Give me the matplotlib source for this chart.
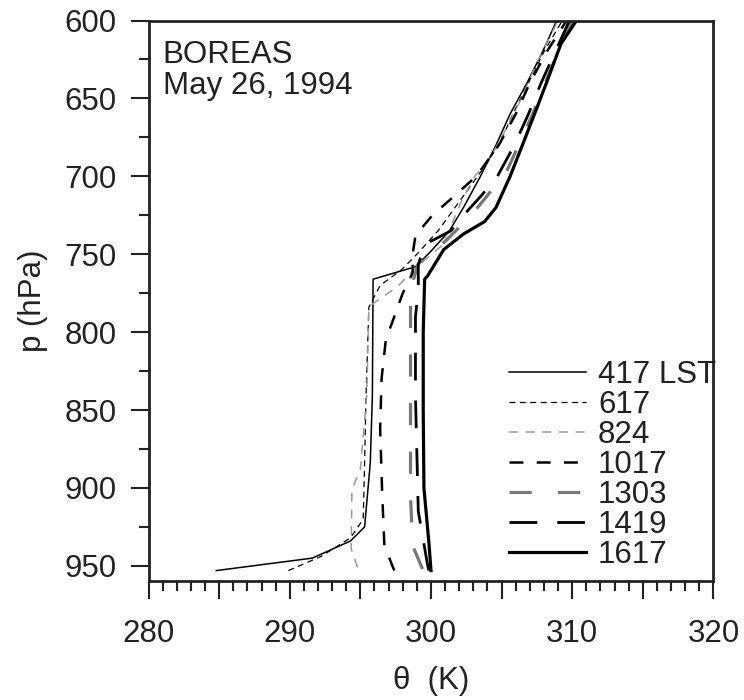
import matplotlib
matplotlib.use("Agg")
import matplotlib.pyplot as plt
from matplotlib.ticker import MultipleLocator, FuncFormatter

plt.rcParams['font.family'] = ['Liberation Sans', 'DejaVu Sans']
plt.rcParams['lines.scale_dashes'] = False

# potential temperature profiles, BOREAS May 26 1994 (theta in K, p in hPa)
p_417 = [953, 945, 934, 925, 884, 841, 766, 758, 748, 735, 720, 700, 680, 660, 640, 620, 600]
t_417 = [284.8, 291.6, 294.3, 295.3, 295.7, 295.85, 295.9, 298.9, 300.0, 301.3, 302.3, 303.5, 304.6, 305.6, 306.8, 307.9, 308.9]

p_617 = [953, 944, 932, 920, 884, 841, 784, 770, 760, 750, 735, 720, 700, 680, 660, 640, 620, 600]
t_617 = [289.9, 292.2, 294.3, 295.2, 295.3, 295.4, 295.6, 296.4, 297.9, 299.0, 300.5, 301.7, 303.3, 304.8, 305.8, 306.9, 308.0, 309.3]

p_824 = [951, 939, 901, 888, 841, 784, 781, 771, 758, 745, 730, 715, 700, 688, 675, 650, 625, 600]
t_824 = [294.8, 294.35, 294.4, 295.0, 295.45, 295.6, 296.0, 297.6, 299.0, 300.7, 301.5, 302.2, 303.1, 304.2, 305.0, 306.4, 307.6, 309.0]

p_1017 = [953, 937, 905, 862, 830, 805, 790, 775, 762, 750, 738, 725, 713, 700, 680, 660, 640, 620, 600]
t_1017 = [297.4, 296.7, 296.55, 296.4, 296.5, 296.8, 297.4, 298.0, 298.7, 298.7, 298.9, 300.1, 301.6, 303.2, 304.8, 306.0, 307.0, 308.2, 309.6]

p_1303 = [952, 937, 905, 862, 820, 786, 771, 756, 750, 740, 730, 720, 710, 698, 680, 660, 640, 620, 600]
t_1303 = [299.4, 298.7, 298.55, 298.55, 298.55, 298.55, 298.6, 299.1, 300.0, 301.2, 302.3, 303.3, 304.2, 305.3, 306.2, 307.2, 308.1, 309.0, 310.0]

p_1419 = [953, 949, 915, 841, 790, 773, 757, 744, 735, 722, 712, 700, 680, 660, 640, 620, 600]
t_1419 = [299.85, 299.75, 299.1, 298.9, 298.9, 299.1, 299.1, 299.5, 301.4, 302.6, 303.6, 304.7, 305.9, 306.9, 307.8, 308.8, 309.8]

p_1617 = [953, 935, 900, 850, 800, 766, 764, 747, 737, 729, 720, 712, 700, 677, 656, 637, 615, 600]
t_1617 = [300.0, 299.85, 299.5, 299.45, 299.45, 299.55, 299.75, 300.9, 302.3, 303.8, 304.6, 305.0, 305.6, 306.6, 307.5, 308.3, 309.2, 310.3]

fig = plt.figure(figsize=(7.44, 7.0), dpi=100)
ax = fig.add_axes([0.1996, 0.1693, 0.7594, 0.8014])

ax.plot(t_417, p_417, color='black', lw=1.1, label='417 LST')
ax.plot(t_617, p_617, color='black', lw=0.9, dashes=(4.3, 3.2), label='617')
ax.plot(t_824, p_824, color='#9a9a9a', lw=1.1, dashes=(6.5, 5.5), label='824')
ax.plot(t_1017, p_1017, color='black', lw=1.8, dashes=(10, 9.6), label='1017')
ax.plot(t_1303, p_1303, color='#777777', lw=2.3, dashes=(16, 19), label='1303')
ax.plot(t_1419, p_1419, color='black', lw=2.0, dashes=(20, 14.4), label='1419')
ax.plot(t_1617, p_1617, color='black', lw=2.3, label='1617')

ax.set_xlim(280, 320)
ax.set_ylim(960, 600)

ax.xaxis.set_major_locator(MultipleLocator(5))
ax.xaxis.set_minor_locator(MultipleLocator(1))
ax.xaxis.set_major_formatter(FuncFormatter(lambda v, pos: f"{v:.0f}" if round(v) % 10 == 0 else ""))
ax.yaxis.set_major_locator(MultipleLocator(50))
ax.yaxis.set_minor_locator(MultipleLocator(25))

ax.tick_params(which='both', direction='out', width=1.5, labelsize=22.5, color='#222222', labelcolor='#222222')
ax.tick_params(which='major', length=13)
ax.tick_params(which='minor', length=7.2)
ax.tick_params(axis='x', which='major', pad=14)
ax.tick_params(axis='y', which='major', pad=10)
for s in ax.spines.values():
    s.set_linewidth(2.0)
    s.set_color('#222222')

ax.set_xlabel('θ  (K)', fontsize=22.5, color='#222222', labelpad=12)
ax.set_ylabel('p (hPa)', fontsize=22.5, color='#222222', labelpad=12)

ax.text(0.025, 0.965, 'BOREAS\nMay 26, 1994', transform=ax.transAxes,
        fontsize=22.5, color='#222222', va='top', ha='left', linespacing=1.05)

leg = ax.legend(loc='lower left', bbox_to_anchor=(0.638, 0.02), frameon=False,
                fontsize=22.5, handlelength=2.45, handletextpad=0.4,
                labelspacing=0.0, borderpad=0, borderaxespad=0)
for t in leg.get_texts():
    t.set_color('#222222')

fig.savefig('out.png', dpi=100, facecolor='white')
